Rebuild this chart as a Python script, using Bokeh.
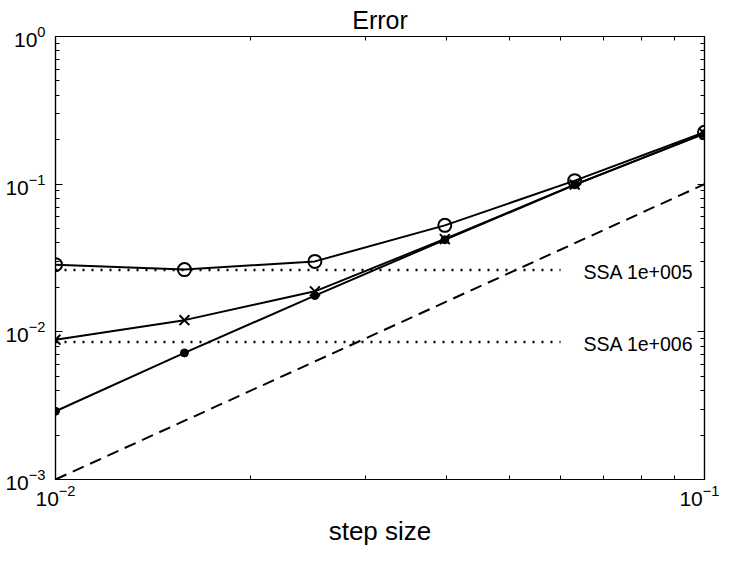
from bokeh.plotting import figure
from bokeh.models import LogAxis, FixedTicker, Range1d, LogTickFormatter, CustomJSTickFormatter
from bokeh.embed import file_html
from bokeh.resources import INLINE
from bokeh.core.properties import value

# ---- data ----
step_size = [0.01, 0.0158, 0.0251, 0.0398, 0.0631, 0.1]
err_circle = [0.0285, 0.0264, 0.0300, 0.0526, 0.1056, 0.2245]
err_cross = [0.00885, 0.0120, 0.0188, 0.0425, 0.0993, 0.2200]
err_dot = [0.0029, 0.0072, 0.0176, 0.0420, 0.0990, 0.2200]

ref_x = [0.01, 0.1]
ref_y = [0.001, 0.1]

ssa_labels = ["SSA 1e+005", "SSA 1e+006"]
ssa_levels = [0.0262, 0.00855]
ssa_x = [0.01, 0.06]

x_major = [0.01, 0.1]
x_minor = [k * 0.01 for k in range(2, 10)]
y_major = [1e-3, 1e-2, 1e-1, 1.0]
y_minor = [k * 10.0 ** e for e in (-3, -2, -1) for k in range(2, 10)]

FONT = "Liberation Sans"

p = figure(
    x_axis_type="log", y_axis_type="log",
    x_range=Range1d(0.01, 0.1), y_range=Range1d(1e-3, 1.0),
    frame_width=649, frame_height=443,
    min_border_left=55, min_border_right=15, min_border_top=10, min_border_bottom=66,
    output_backend="svg", toolbar_location=None,
    background_fill_color="white", border_fill_color="white",
    outline_line_color="black", outline_line_width=1.2,
)
p.grid.visible = False

p.title.text = "Error"
p.title.align = "center"
p.title.text_font = FONT
p.title.text_font_size = "25px"
p.title.text_font_style = "normal"
p.title.text_color = "black"
p.title.standoff = 6
p.title.offset = 0

p.add_layout(LogAxis(), "above")
p.add_layout(LogAxis(), "right")

bottom, left, top, right = p.below[0], p.left[0], p.above[0], p.right[0]

for ax in (bottom, top):
    ax.ticker = FixedTicker(ticks=x_major, minor_ticks=x_minor)
for ax in (left, right):
    ax.ticker = FixedTicker(ticks=y_major, minor_ticks=y_minor)

for ax in (bottom, left, top, right):
    ax.major_tick_in = 7
    ax.major_tick_out = 0
    ax.minor_tick_in = 4
    ax.minor_tick_out = 0
    ax.major_tick_line_color = "black"
    ax.minor_tick_line_color = "black"
    ax.axis_line_color = "black"
    ax.axis_line_width = 1.2
    ax.major_label_text_font = FONT
    ax.major_label_text_font_size = "21px"
    ax.major_label_text_color = "black"

bottom.formatter = LogTickFormatter()
left.formatter = LogTickFormatter()
for ax in (top, right):
    ax.formatter = CustomJSTickFormatter(code="return ''")
    ax.major_label_text_font_size = "1px"
    ax.major_label_standoff = 0

bottom.axis_label = "step size"
bottom.axis_label_text_font = FONT
bottom.axis_label_text_font_size = "26px"
bottom.axis_label_text_font_style = "normal"
bottom.axis_label_text_color = "black"
bottom.axis_label_standoff = 7
bottom.major_label_standoff = 5
left.major_label_standoff = 10

# reference slope line
p.line(ref_x, ref_y, line_color="black", line_width=2, line_dash="12 7")

# SSA levels
for lvl, lab in zip(ssa_levels, ssa_labels):
    p.line(ssa_x, [lvl, lvl], line_color="black", line_width=2.5, line_dash="2 7")
p.text(x=[ssa_x[1]] * len(ssa_levels), y=ssa_levels, text=ssa_labels,
       x_offset=23, y_offset=2, text_align="left", text_baseline="middle",
       text_font=value(FONT), text_font_size=value("19.5px"), text_color="black")

# series
p.line(step_size, err_dot, line_color="black", line_width=2)
p.scatter(step_size, err_dot, marker="circle", size=8, fill_color="black", line_color="black")

p.line(step_size, err_cross, line_color="black", line_width=2)
p.scatter(step_size, err_cross, marker="x", size=14, line_color="black", line_width=2)

p.line(step_size, err_circle, line_color="black", line_width=2)
p.scatter(step_size, err_circle, marker="circle", size=13, fill_color=None,
          line_color="black", line_width=2)

open("out.html", "w").write(file_html(p, INLINE))
